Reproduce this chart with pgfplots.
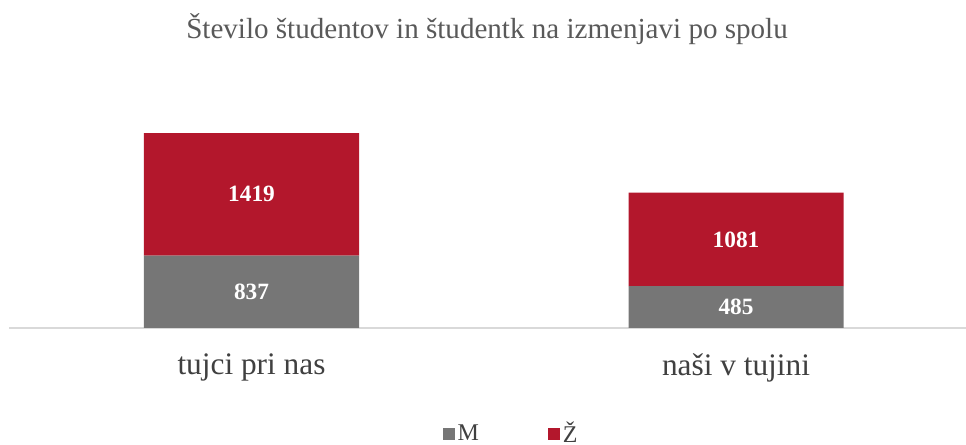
\documentclass[border=0pt]{standalone}
\usepackage{pgfplots}
\pgfplotsset{compat=1.18}
\usepackage{fontspec}
\setmainfont{Liberation Serif}
\definecolor{cgray}{HTML}{767676}
\definecolor{cred}{HTML}{B3172C}
\definecolor{ctitle}{HTML}{595959}
\definecolor{ctext}{HTML}{404040}
\definecolor{cline}{HTML}{D9D9D9}
\begin{document}
\begin{tikzpicture}
\useasboundingbox (0,0) rectangle (724.5pt,333.75pt);
\begin{axis}[
  at={(6.75pt,87.75pt)}, anchor=south west,
  scale only axis, width=717.75pt, height=150pt,
  ybar stacked, bar width=161.25pt,
  xmin=-0.5005, xmax=1.4747, ymin=0, ymax=2314,
  axis x line=bottom, axis y line=none,
  x axis line style={draw=cline, line width=1.2pt, -},
  xtick={0,1}, xticklabels={tujci pri nas, naši v tujini},
  xtick style={draw=none}, ytick=\empty,
  xticklabel style={anchor=center, yshift=-27.75pt, font=\fontsize{23.5}{26}\selectfont, text=ctext},
  title={Število študentov in študentk na izmenjavi po spolu},
  title style={at={(0.4995,1.455)}, anchor=center, font=\fontsize{21.8}{24}\selectfont, text=ctitle},
  legend columns=2,
  legend style={at={(0.5251,-0.528)}, anchor=center, draw=none, fill=none,
    font=\fontsize{18}{20}\selectfont, text=ctext,
    /tikz/every even column/.append style={column sep=50pt}},
  legend image code/.code={\fill[#1] (-2pt,-4.5pt) rectangle (7pt,4.5pt);},
]
\addplot[fill=cgray, draw=none] coordinates {(0,837) (1,485)};
\addplot[fill=cred, draw=none] coordinates {(0,1419) (1,1081)};
\legend{M, Ž}
\end{axis}
\begin{axis}[
  at={(6.75pt,87.75pt)}, anchor=south west,
  scale only axis, width=717.75pt, height=150pt,
  xmin=-0.5005, xmax=1.4747, ymin=0, ymax=2314, hide axis,
]
\addplot[draw=none, nodes near coords, point meta=explicit symbolic,
  nodes near coords align=center,
  every node near coord/.append style={text=white, font=\bfseries\fontsize{17.5}{20}\selectfont}]
  table[meta=lab] {
x y lab
0 418.5 837
0 1546.5 1419
1 242.5 485
1 1025.5 1081
};
\end{axis}
\end{tikzpicture}
\end{document}
